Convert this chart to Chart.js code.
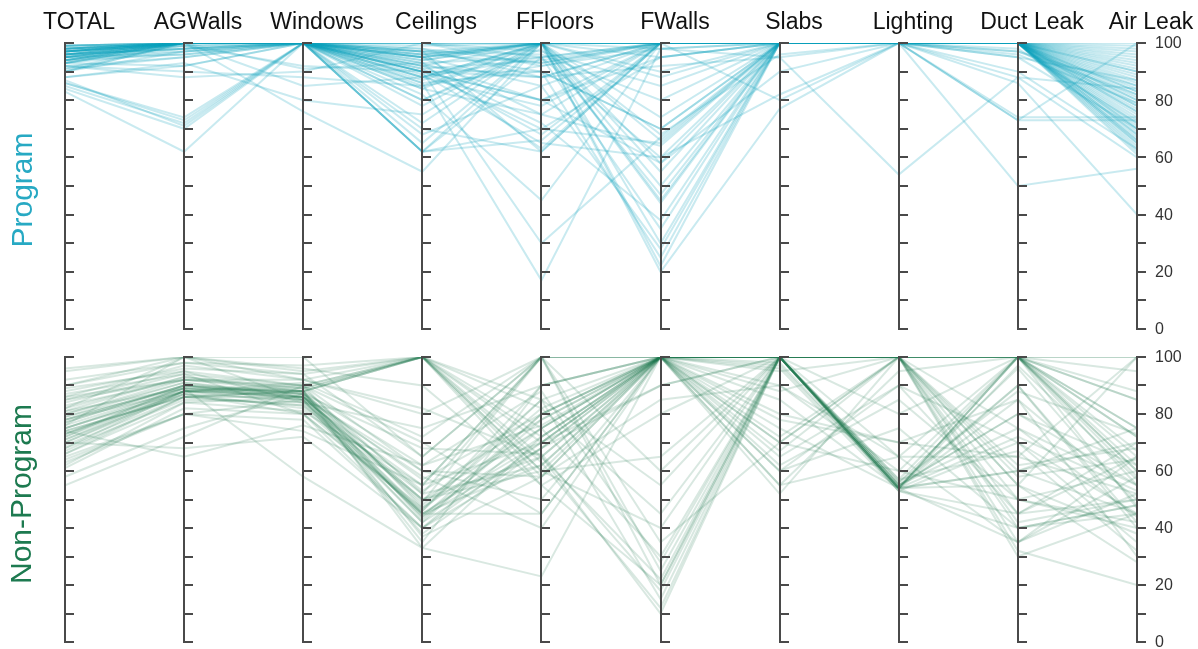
<!DOCTYPE html>
<html>
<head>
<meta charset="utf-8">
<script src="https://cdn.jsdelivr.net/npm/chart.js@4.4.0/dist/chart.umd.min.js"></script>
<style>
  html, body { margin: 0; padding: 0; background: #fff; }
  #wrap { position: relative; width: 1198px; height: 649px; overflow: hidden; }
  canvas { position: absolute; left: 0; }
  #top { top: 0; }
  #bottom { top: 340px; }
</style>
</head>
<body>
<div id="wrap">
  <canvas id="top" width="1198" height="340"></canvas>
  <canvas id="bottom" width="1198" height="309"></canvas>
</div>
<script>
/* ==============================
   DATA
================================ */
const categories = ["TOTAL", "AGWalls", "Windows", "Ceilings", "FFloors", "FWalls", "Slabs", "Lighting", "Duct Leak", "Air Leak"];
const tickLabels = [0, 20, 40, 60, 80, 100];
const tickMarks = [0, 10, 20, 30, 40, 50, 60, 70, 80, 90, 100];

// one row per home: TOTAL, AGWalls, Windows, Ceilings, FFloors, FWalls, Slabs, Lighting, Duct Leak, Air Leak
const programLines = [
    [98,100,100,100,100,100,100,100,100,100],
    [97,100,100,96,100,100,100,100,100,95],
    [99,100,100,93,95,100,100,100,100,88],
    [96,98,100,90,88,100,100,100,100,80],
    [95,97,100,88,78,100,100,100,100,72],
    [97,100,100,62,70,65,100,100,100,66],
    [94,96,100,62,66,100,100,100,100,62],
    [96,100,100,62,95,60,100,100,100,78],
    [93,92,100,95,100,45,100,100,97,85],
    [92,90,88,85,100,98,95,100,100,90],
    [98,100,100,97,90,70,100,100,100,75],
    [95,99,92,90,80,100,100,100,95,70],
    [97,100,100,100,97,85,100,100,100,93],
    [99,100,100,98,93,100,100,100,100,82],
    [91,95,100,84,75,100,100,100,100,68],
    [94,100,100,80,100,58,90,100,100,76],
    [96,98,100,70,62,100,100,100,100,64],
    [93,100,100,92,100,30,100,100,100,90],
    [90,100,100,90,70,95,100,100,90,63],
    [88,92,100,94,100,100,80,100,88,60],
    [86,73,100,97,62,100,100,100,100,70],
    [85,72,100,95,100,100,100,100,100,74],
    [84,70,100,88,100,66,100,100,96,79],
    [86,74,100,90,90,25,100,100,100,87],
    [83,62,100,100,100,100,100,100,100,65],
    [87,71,100,65,100,100,100,100,73,73],
    [97,100,100,92,88,92,95,54,88,84],
    [95,100,100,95,100,100,100,100,50,56],
    [96,100,100,88,95,100,100,100,74,74],
    [94,98,100,85,92,98,100,100,73,100],
    [98,100,100,90,80,95,100,100,86,40],
    [97,100,100,99,100,88,100,100,100,97],
    [99,100,100,96,100,100,100,100,100,91],
    [92,95,100,82,45,100,100,100,100,67],
    [95,100,100,86,17,98,100,100,100,79],
    [93,99,100,78,100,20,77,100,100,71],
    [90,97,100,92,72,38,100,100,97,82],
    [96,100,91,93,63,100,100,100,100,86],
    [98,100,85,88,100,50,100,100,100,94],
    [94,100,76,55,100,55,100,100,100,69],
    [97,100,100,97,96,80,100,100,100,77],
    [91,100,100,68,85,28,100,100,100,83],
    [95,96,100,94,100,74,100,100,100,61],
    [99,100,100,100,92,100,100,100,100,96],
    [96,100,100,91,68,100,100,100,100,80],
    [93,97,100,62,100,44,100,100,98,72],
    [98,100,100,95,75,64,100,100,100,89],
    [97,99,100,87,100,68,96,100,100,65],
    [92,88,90,100,95,35,100,100,100,84],
    [95,100,100,98,88,100,100,100,100,92],
    [94,100,100,90,30,67,100,100,100,73],
    [96,100,100,84,100,90,100,100,100,99],
    [99,100,100,100,100,100,100,100,100,85],
    [97,100,100,93,80,58,100,100,100,76],
    [88,93,80,75,100,22,100,100,100,68],
    [93,100,100,96,93,100,100,100,95,87],
    [95,100,100,80,98,47,100,100,100,63],
    [98,100,100,97,100,100,100,100,100,98],
    [90,100,100,89,65,60,82,100,100,81],
    [96,98,100,72,100,95,100,100,100,70],
    [97,100,100,91,94,100,100,100,100,83],
    [94,100,100,86,90,70,100,100,100,66],
    [98,100,100,95,85,100,100,100,100,78]
];

const nonProgramLines = [
    [75,88,87,45,70,100,100,54,100,60],
    [72,90,86,50,65,100,100,55,80,55],
    [80,92,88,100,75,30,100,100,60,45],
    [68,85,84,42,80,100,70,60,100,72],
    [90,100,95,100,60,65,100,53,45,50],
    [76,89,85,55,100,20,100,100,35,65],
    [65,80,78,40,70,100,100,56,96,48],
    [85,95,90,70,45,100,65,90,70,35],
    [74,86,88,48,85,15,100,100,100,75],
    [70,88,84,52,62,100,100,54,55,100],
    [95,100,92,80,100,100,100,100,100,100],
    [78,90,87,35,90,100,60,75,40,45],
    [62,84,86,60,58,100,98,54,90,40],
    [82,93,89,100,55,80,100,100,100,62],
    [73,87,82,45,72,100,90,65,65,52],
    [88,96,94,65,100,25,100,57,100,85],
    [67,86,88,43,78,100,100,100,45,70],
    [79,91,86,58,40,100,55,95,100,58],
    [55,72,90,100,65,10,100,54,85,30],
    [84,94,80,47,75,100,70,100,50,60],
    [71,88,91,72,100,60,100,55,75,44],
    [77,90,85,38,68,100,100,80,100,67],
    [92,98,97,100,82,45,100,100,32,20],
    [69,86,83,50,60,100,85,54,60,75],
    [74,65,76,62,88,28,100,100,100,55],
    [81,89,88,33,23,100,96,53,70,45],
    [63,80,74,55,100,100,52,100,40,48],
    [86,97,92,100,70,90,100,65,100,95],
    [75,88,86,44,80,100,75,54,97,57],
    [70,68,72,40,65,22,100,100,55,38],
    [83,92,90,60,50,100,100,56,88,73],
    [66,86,86,46,85,100,62,85,50,42],
    [78,90,88,100,60,40,100,100,100,65],
    [89,95,84,75,90,100,100,54,35,52],
    [73,88,89,52,100,100,80,70,65,100],
    [61,82,80,40,75,100,100,100,100,47],
    [80,91,87,68,66,18,100,55,80,62],
    [76,100,85,45,62,100,67,100,42,50],
    [58,75,87,53,78,100,100,54,60,70],
    [87,94,90,100,72,100,100,100,100,85],
    [72,88,88,37,58,85,90,60,50,40],
    [79,89,58,33,72,100,97,54,100,60],
    [68,88,86,49,100,35,70,100,75,55],
    [85,92,92,82,65,100,100,100,30,45],
    [74,86,83,45,45,100,100,57,67,32],
    [90,98,94,100,85,55,100,100,100,88],
    [64,80,85,42,68,100,60,90,45,65],
    [77,90,87,57,80,100,100,54,100,75],
    [82,100,96,90,55,20,100,100,55,28],
    [70,87,80,46,90,100,78,70,85,50],
    [86,92,89,100,63,12,100,53,40,48],
    [73,89,86,50,75,100,100,100,100,72],
    [96,100,100,65,100,100,95,100,100,100],
    [66,84,81,55,70,100,55,65,35,58],
    [78,88,90,47,82,100,100,55,90,42],
    [81,93,88,100,58,100,72,100,62,68],
    [75,89,88,62,76,100,88,100,58,64],
    [71,87,85,44,68,90,100,54,72,53]
];

const FONT = "'Liberation Sans', Arial, sans-serif";

/* ==============================
   AXES PLUGIN (parallel axes)
================================ */
const parallelAxes = {
    id: "parallelAxes",
    afterDatasetsDraw(chart, args, opts) {
        const { ctx, scales: { x, y } } = chart;
        ctx.save();
        ctx.strokeStyle = "#4a4a4a";
        ctx.lineWidth = 2;
        const top = y.getPixelForValue(100);
        const bottom = y.getPixelForValue(0);

        categories.forEach((cat, i) => {
            const px = Math.round(x.getPixelForValue(i));
            ctx.beginPath();
            ctx.moveTo(px, top - 1);
            ctx.lineTo(px, bottom + 1);
            tickMarks.forEach(v => {
                const py = Math.round(y.getPixelForValue(v));
                ctx.moveTo(px, py);
                ctx.lineTo(px + 9, py);
            });
            ctx.stroke();

            if (opts.headers) {
                ctx.fillStyle = "#111";
                ctx.font = "23px " + FONT;
                ctx.textAlign = "center";
                ctx.textBaseline = "alphabetic";
                ctx.fillText(cat, px + 14, 29);
            }
        });

        // tick labels on the last axis
        const lastX = Math.round(x.getPixelForValue(categories.length - 1));
        ctx.fillStyle = "#333";
        ctx.font = "16px " + FONT;
        ctx.textAlign = "left";
        ctx.textBaseline = "middle";
        tickLabels.forEach(v => {
            ctx.fillText(String(v), lastX + 18, y.getPixelForValue(v) + 1);
        });

        // side label
        ctx.translate(opts.sideX, opts.sideY);
        ctx.rotate(-Math.PI / 2);
        ctx.fillStyle = opts.sideColor;
        ctx.font = "30px " + FONT;
        ctx.textAlign = "center";
        ctx.textBaseline = "middle";
        ctx.fillText(opts.sideLabel, 0, 0);
        ctx.restore();
    }
};

/* ==============================
   BUILD ONE PANEL
================================ */
function makePanel(canvasId, lines, lineColor, padding, axesOpts) {
    const datasets = lines.map(row => ({
        data: row.map((v, i) => ({ x: i, y: v })),
        borderColor: lineColor,
        borderWidth: 2,
        pointRadius: 0,
        tension: 0,
        fill: false
    }));

    return new Chart(document.getElementById(canvasId), {
        type: "line",
        data: { datasets },
        options: {
            responsive: false,
            animation: false,
            devicePixelRatio: 1,
            layout: { padding },
            scales: {
                x: { type: "linear", min: 0, max: categories.length - 1, display: false },
                y: { type: "linear", min: 0, max: 100, display: false }
            },
            plugins: {
                legend: { display: false },
                tooltip: { enabled: false },
                parallelAxes: axesOpts
            }
        },
        plugins: [parallelAxes]
    });
}

makePanel("top", programLines, "rgba(10,160,185,0.22)",
    { left: 65, right: 61, top: 43, bottom: 11 },
    { headers: true, sideLabel: "Program", sideColor: "#27a9c3", sideX: 24, sideY: 190 });

makePanel("bottom", nonProgramLines, "rgba(30,120,80,0.17)",
    { left: 65, right: 61, top: 17, bottom: 7 },
    { headers: false, sideLabel: "Non-Program", sideColor: "#1d7a50", sideX: 23, sideY: 154 });
</script>
</body>
</html>
